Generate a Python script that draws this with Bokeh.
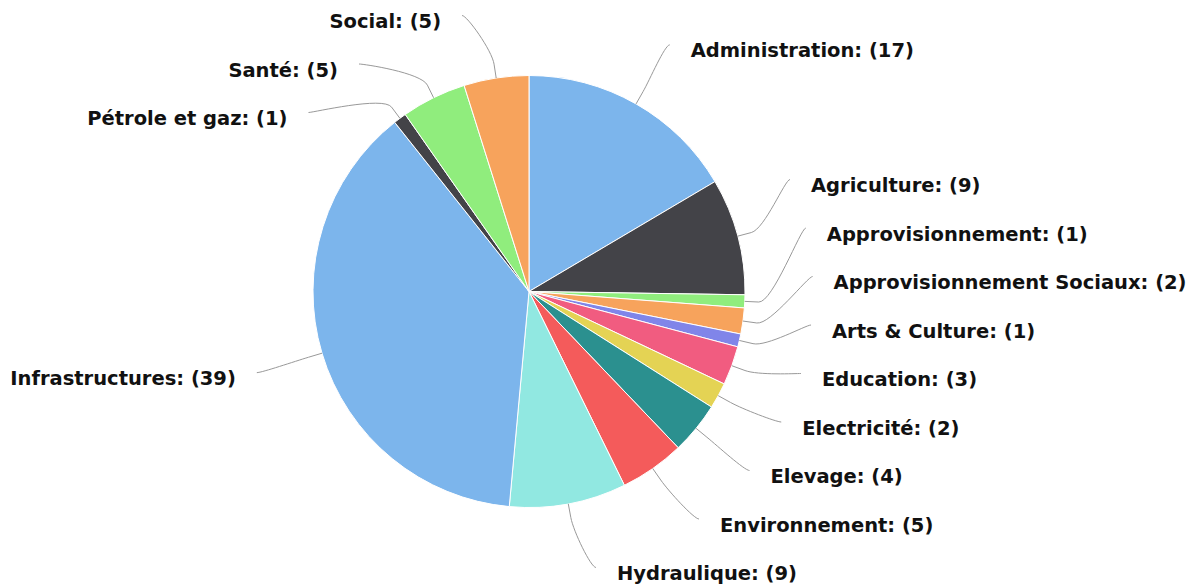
import math
from bokeh.plotting import figure
from bokeh.models import Range1d, ColumnDataSource
from bokeh.core.properties import value
from bokeh.embed import file_html
from bokeh.resources import INLINE

# ---- data ----
categories = ["Administration", "Agriculture", "Approvisionnement",
              "Approvisionnement Sociaux", "Arts & Culture", "Education",
              "Electricité", "Elevage", "Environnement", "Hydraulique",
              "Infrastructures", "Pétrole et gaz", "Santé", "Social"]
counts = [17, 9, 1, 2, 1, 3, 2, 4, 5, 9, 39, 1, 5, 5]
colors = ["#7cb5ec", "#434348", "#90ed7d", "#f7a35c", "#8085e9", "#f15c80",
          "#e4d354", "#2b908f", "#f45b5b", "#91e8e1", "#7cb5ec", "#434348",
          "#90ed7d", "#f7a35c"]

# ---- layout constants (screen pixels, y downward) ----
W, H = 1203, 588
OFF = 0
CX, CY, R = 528.5, 291.0, 216.0
LABEL_DIST = 68.0
BREAK = 14.0
GAP = 21.0
SPACING = 48.5
TOP, BOTTOM = 15.0, 567.0
TEXT_DY = 6.0

total = float(sum(counts))
starts, ends, mids = [], [], []
acc = 0.0
for c in counts:
    a0 = acc / total * 360.0
    acc += c
    a1 = acc / total * 360.0
    starts.append(a0)
    ends.append(a1)
    mids.append((a0 + a1) / 2.0)

RL = R + LABEL_DIST


def distribute(targets, size, lo, hi):
    # targets: list of (index, target_y); returns dict index->y
    items = sorted(targets, key=lambda t: t[1])
    groups = [[it] for it in items]

    def place(g):
        n = len(g)
        mean = sum(t for _, t in g) / n
        s = mean - (n - 1) * size / 2.0
        s = max(lo, min(s, hi - (n - 1) * size))
        return s

    changed = True
    while changed:
        changed = False
        pos = [place(g) for g in groups]
        for i in range(len(groups) - 1):
            end_i = pos[i] + (len(groups[i]) - 1) * size
            if pos[i + 1] < end_i + size - 1e-9:
                groups[i] = groups[i] + groups[i + 1]
                del groups[i + 1]
                changed = True
                break
    out = {}
    for g in groups:
        s = place(g)
        for k, (idx, _) in enumerate(g):
            out[idx] = s + k * size
    return out


right, left = [], []
for i, m in enumerate(mids):
    ny = CY - RL * math.cos(math.radians(m))
    (left if m > 180 else right).append((i, ny))
ypos = {}
ypos.update(distribute(right, SPACING, TOP, BOTTOM))
ypos.update(distribute(left, SPACING, TOP, BOTTOM))

# connectors and labels
bx0, by0, bx1, by1, bcx0, bcy0, bcx1, bcy1 = [], [], [], [], [], [], [], []
sx0, sy0, sx1, sy1 = [], [], [], []
rl_x, rl_y, rl_t = [], [], []
ll_x, ll_y, ll_t = [], [], []
for i, m in enumerate(mids):
    rad = math.radians(m)
    is_left = m > 180
    y = ypos[i]
    dy = max(-RL, min(RL, y - CY))
    dx = math.sqrt(RL * RL - dy * dy)
    x = CX - dx if is_left else CX + dx
    tx, ty = CX + R * math.sin(rad), CY - R * math.cos(rad)
    bx, by = CX + (R + BREAK) * math.sin(rad), CY - (R + BREAK) * math.cos(rad)
    bx0.append(x); by0.append(-y)
    bcx0.append(x + (5 if is_left else -5)); bcy0.append(-y)
    bcx1.append(2 * bx - tx); bcy1.append(-(2 * by - ty))
    bx1.append(bx); by1.append(-by)
    sx0.append(bx); sy0.append(-by); sx1.append(tx); sy1.append(-ty)
    label = f"{categories[i]}: ({counts[i]})"
    if is_left:
        ll_x.append(x - GAP); ll_y.append(-(y + TEXT_DY)); ll_t.append(label)
    else:
        rl_x.append(x + GAP); rl_y.append(-(y + TEXT_DY)); rl_t.append(label)

p = figure(width=W, height=H,
           x_range=Range1d(OFF, OFF + W), y_range=Range1d(-(OFF + H), -OFF),
           output_backend="svg", toolbar_location=None,
           x_axis_location=None, y_axis_location=None, min_border=0)
p.grid.visible = False
p.outline_line_color = None
p.background_fill_color = "white"
p.border_fill_color = "white"

wsrc = ColumnDataSource(dict(
    x=[CX] * len(counts), y=[-CY] * len(counts),
    start=[math.radians(90 - e) for e in ends],
    end=[math.radians(90 - s) for s in starts],
    color=colors, name=categories, count=counts))
p.wedge(x="x", y="y", radius=R, start_angle="start", end_angle="end",
        fill_color="color", line_color="white", line_width=1, source=wsrc)

p.bezier(x0=bx0, y0=by0, x1=bx1, y1=by1, cx0=bcx0, cy0=bcy0, cx1=bcx1, cy1=bcy1,
         line_color="#999999", line_width=1)
p.segment(x0=sx0, y0=sy0, x1=sx1, y1=sy1, line_color="#999999", line_width=1)

common = dict(text_font=value("DejaVu Sans"), text_font_style="bold",
              text_font_size="19.5px", text_color="#111111",
              text_baseline="middle")
p.text(x=rl_x, y=rl_y, text=rl_t, text_align="left", **common)
p.text(x=ll_x, y=ll_y, text=ll_t, text_align="right", **common)

open("out.html", "w").write(file_html(p, INLINE))
